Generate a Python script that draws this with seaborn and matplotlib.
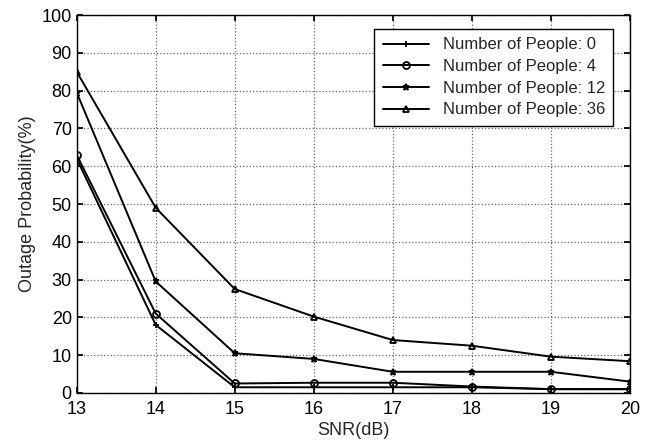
import numpy as np
import pandas as pd
import matplotlib
matplotlib.use('Agg')
import matplotlib.pyplot as plt
import seaborn as sns

snr = [13, 14, 15, 16, 17, 18, 19, 20]
people_0 = [62, 18, 1.5, 1.5, 1.5, 1.5, 1.0, 1.0]
people_4 = [63, 21, 2.5, 2.7, 2.7, 1.7, 1.0, 1.0]
people_12 = [79.5, 29.5, 10.5, 9.0, 5.6, 5.6, 5.6, 3.0]
people_36 = [85, 49, 27.5, 20.2, 14, 12.5, 9.6, 8.4]

labels = ["Number of People: 0", "Number of People: 4",
          "Number of People: 12", "Number of People: 36"]
series = [people_0, people_4, people_12, people_36]
markers = ["+", "o", "*", "^"]

sns.set_theme(style="ticks")
plt.rcParams['font.family'] = ['Liberation Sans', 'DejaVu Sans']

fig = plt.figure(figsize=(6.5, 4.43), dpi=100)
ax = fig.add_axes([0.118, 0.113, 0.851, 0.853])

for vals, lab, mk in zip(series, labels, markers):
    df = pd.DataFrame({"SNR": snr, "P": vals})
    sns.lineplot(data=df, x="SNR", y="P", ax=ax, color="black", linewidth=1.4,
                 marker=mk, markersize=5, markerfacecolor="none",
                 markeredgecolor="black", markeredgewidth=1.3, label=lab)

ax.set_xlim(13, 20)
ax.set_ylim(0, 100)
ax.set_xticks(snr)
ax.set_yticks(np.arange(0, 101, 10))
ax.grid(True, linestyle=":", color="#666666", linewidth=0.9)
ax.tick_params(labelsize=13, direction="in", length=4, colors="black")
ax.tick_params(axis="x", pad=6)
ax.tick_params(top=True, right=True)
for s in ax.spines.values():
    s.set_color("black")
    s.set_linewidth(1.0)
ax.set_xlabel("SNR(dB)", fontsize=13, labelpad=3)
ax.set_ylabel("Outage Probability(%)", fontsize=13, labelpad=4)

leg = ax.legend(loc="upper right", bbox_to_anchor=(0.985, 0.985), fontsize=12,
                frameon=True, fancybox=False, edgecolor="black", framealpha=1,
                handlelength=2.8, borderpad=0.5, labelspacing=0.4)
leg.get_frame().set_linewidth(1.0)

fig.savefig("out.png", dpi=100)
